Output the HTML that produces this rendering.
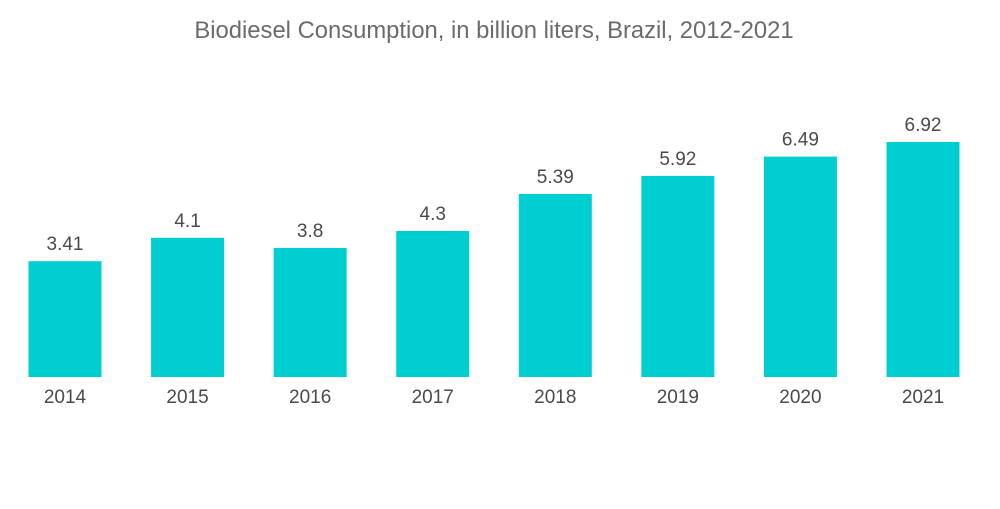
<!DOCTYPE html>
<html><head><meta charset="utf-8"><style>
body{margin:0;background:#fff;font-family:"Liberation Sans",sans-serif;}
</style></head><body>
<svg width="1000" height="504" xmlns="http://www.w3.org/2000/svg">
<text x="494" y="38" text-anchor="middle" font-size="23.8" fill="#6b6b6b">Biodiesel Consumption, in billion liters, Brazil, 2012-2021</text>
<g id="bars"></g>
</svg>
<script>
const categories=["2014","2015","2016","2017","2018","2019","2020","2021"];
const values=[3.41,4.1,3.8,4.3,5.39,5.92,6.49,6.92];
const labels=["3.41","4.1","3.8","4.3","5.39","5.92","6.49","6.92"];
const base=377, scale=235/6.92, x0=65, step=(923-65)/7, bw=73;
const y=v=>base-v*scale, x=i=>x0+i*step;
const g=document.getElementById('bars'), ns="http://www.w3.org/2000/svg";
categories.forEach((c,i)=>{
 const r=document.createElementNS(ns,'rect');
 r.setAttribute('x',x(i)-bw/2);r.setAttribute('y',y(values[i]));
 r.setAttribute('width',bw);r.setAttribute('height',base-y(values[i]));
 r.setAttribute('fill','#00ced1');
 
 
 g.appendChild(r);
 const t=document.createElementNS(ns,'text');
 t.setAttribute('x',x(i));t.setAttribute('y',y(values[i])-11);
 t.setAttribute('text-anchor','middle');t.setAttribute('font-size','19');t.setAttribute('fill','#4a4a4a');
 t.textContent=labels[i];
 
 
 g.appendChild(t);
 const a=document.createElementNS(ns,'text');
 a.setAttribute('x',x(i));a.setAttribute('y',403);
 a.setAttribute('text-anchor','middle');a.setAttribute('font-size','19');a.setAttribute('fill','#4a4a4a');
 a.textContent=c;
 
 
 g.appendChild(a);
});
</script>
</body></html>
